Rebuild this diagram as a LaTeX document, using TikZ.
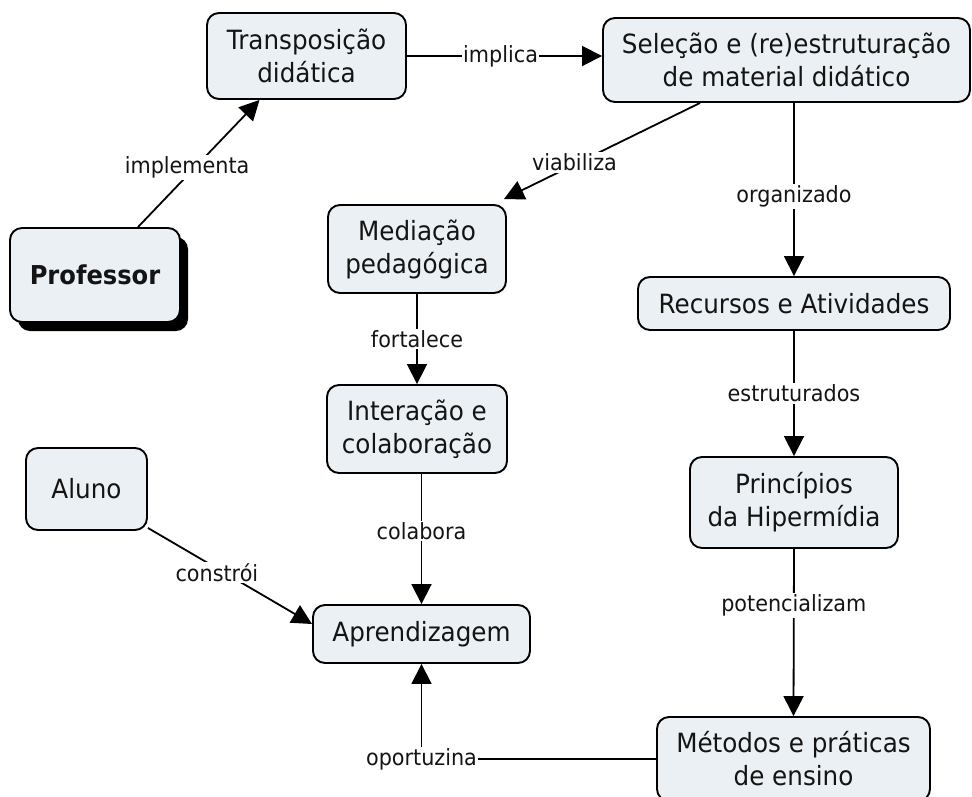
\documentclass[tikz,border=0pt]{standalone}
\usepackage{fontspec}
\setmainfont{DejaVu Sans}[FakeStretch=0.93]
\usetikzlibrary{arrows.meta,shadows}
\definecolor{conceptfill}{HTML}{EAF0F3}
\definecolor{inktext}{HTML}{141414}
\tikzset{
  concept/.style={draw=black, line width=1.9pt, fill=conceptfill, rounded corners=12pt,
    align=center, inner sep=0pt, text=inktext,
    font=\fontsize{26.5}{33}\selectfont},
  link/.style={line width=1.8pt, draw=black},
  linkarrow/.style={link, -{Triangle[length=20pt,width=20pt]}},
  lab/.style={fill=white, inner sep=1.5pt, text=inktext,
    font=\fontsize{22.3}{26}\selectfont}
}
\begin{document}
\begin{tikzpicture}[x=1pt,y=-1pt]
\useasboundingbox (0,0) rectangle (972,796);

% concepts
\node[concept, minimum width=199pt, minimum height=86pt] (trans) at (306.5,56) {Transposição\\didática};
\node[concept, minimum width=367pt, minimum height=84pt] (sel) at (786.5,60) {Seleção e (re)estruturação\\de material didático};
\node[concept, minimum width=170pt, minimum height=94pt,
      drop shadow={fill=black, opacity=1, shadow xshift=8pt, shadow yshift=-9pt},
      font=\fontsize{26}{33}\selectfont\bfseries] (prof) at (95,275) {Professor};
\node[concept, minimum width=178pt, minimum height=88pt] (med) at (417,249) {Mediação\\pedagógica};
\node[concept, minimum width=312pt, minimum height=53pt] (rec) at (794,303.5) {Recursos e Atividades};
\node[concept, minimum width=180pt, minimum height=88pt] (inter) at (417,429) {Interação e\\colaboração};
\node[concept, minimum width=121pt, minimum height=82pt] (aluno) at (86.5,489) {Aluno};
\node[concept, minimum width=208pt, minimum height=91pt] (princ) at (794,502.5) {Princípios\\da Hipermídia};
\node[concept, minimum width=217pt, minimum height=58pt] (aprend) at (421.5,634) {Aprendizagem};
\node[concept, minimum width=273pt, minimum height=84pt] (metod) at (793.5,759) {Métodos e práticas\\de ensino};

% links
\draw[linkarrow] ([xshift=43pt]prof.north) -- ([xshift=-47pt]trans.south)
  node[lab, pos=0.47, xshift=-8pt] {implementa};
\draw[linkarrow] (trans.east) -- (trans.east -| sel.west)
  node[lab, pos=0.48] {implica};
\draw[linkarrow] ([xshift=-86.5pt]sel.south) -- ([shift={(-3pt,5pt)}]med.north east)
  node[lab, pos=0.62, xshift=-4pt] {viabiliza};
\draw[linkarrow] (rec.north |- sel.south) -- (rec.north)
  node[lab, pos=0.54] {organizado};
\draw[linkarrow] (med.south) -- (inter.north)
  node[lab, pos=0.5] {fortalece};
\draw[linkarrow] (rec.south) -- (princ.north)
  node[lab, pos=0.5] {estruturados};
\draw[linkarrow] (inter.south -| aprend.north) -- (aprend.north)
  node[lab, pos=0.44] {colabora};
\draw[linkarrow] ([yshift=3pt]aluno.south east) -- ([yshift=10pt]aprend.west)
  node[lab, pos=0.42, yshift=-4pt] {constrói};
\draw[linkarrow] (princ.south) -- (metod.north)
  node[lab, pos=0.34] {potencializam};
\draw[linkarrow] (metod.west) -| (aprend.south)
  node[lab, pos=0.5] {oportuzina};
\end{tikzpicture}
\end{document}
